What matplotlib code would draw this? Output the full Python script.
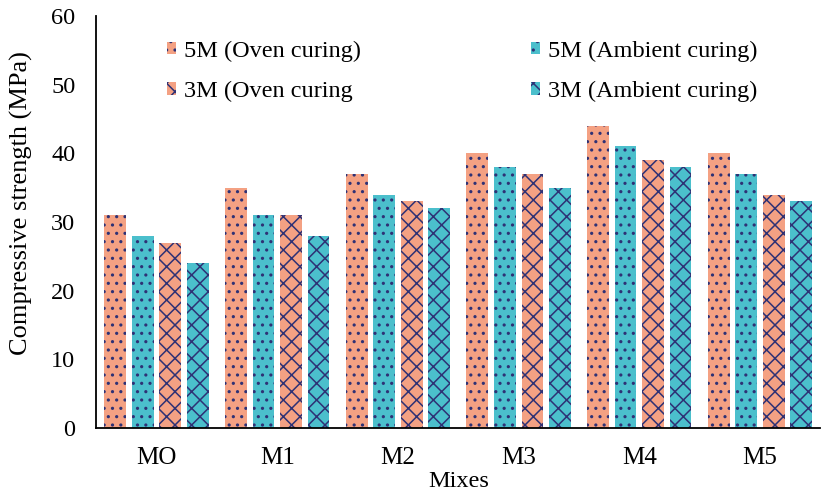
import matplotlib.pyplot as plt
import numpy as np

plt.rcParams['font.family'] = ['Liberation Serif', 'DejaVu Serif']
plt.rcParams['hatch.linewidth'] = 1.1

mixes = ['MO', 'M1', 'M2', 'M3', 'M4', 'M5']
oven_5m = [31, 35, 37, 40, 44, 40]
ambient_5m = [28, 31, 34, 38, 41, 37]
oven_3m = [27, 31, 33, 37, 39, 34]
ambient_3m = [24, 28, 32, 35, 38, 33]

orange = '#F4A183'
teal = '#4BBFCC'
navy = '#2E3175'

fig = plt.figure(figsize=(8.22, 5), dpi=100)
ax = fig.add_axes([0.117, 0.144, 0.881, 0.824])

x = np.arange(len(mixes))
w = 0.18
step = 0.228

series = [
    (oven_5m, orange, '..', '5M (Oven curing)', -1.5),
    (ambient_5m, teal, '..', '5M (Ambient curing)', -0.5),
    (oven_3m, orange, 'xx', '3M (Oven curing', 0.5),
    (ambient_3m, teal, 'xx', '3M (Ambient curing)', 1.5),
]
bars = {}
for vals, col, hat, lab, off in series:
    bars[lab] = ax.bar(x + off * step, vals, w, color=col, hatch=hat,
                       edgecolor=navy, linewidth=0, label=lab)

# legend filled column-wise: oven entries left, ambient entries right
order = ['5M (Oven curing)', '3M (Oven curing',
         '5M (Ambient curing)', '3M (Ambient curing)']
ax.legend([bars[k] for k in order], order, ncol=2, frameon=False,
          loc='upper left', bbox_to_anchor=(0.098, 0.94), fontsize=17.5,
          borderpad=0, borderaxespad=0,
          columnspacing=7.0, handlelength=0.35, handleheight=0.4,
          handletextpad=0.35, labelspacing=0.78)

ax.set_xlim(-0.5, 5.5)
ax.set_ylim(0, 60)
ax.set_yticks(range(0, 61, 10))
ax.set_xticks(x)
ax.set_xticklabels(mixes)
ax.tick_params(axis='both', length=0, labelsize=18)
ax.tick_params(axis='x', pad=14)
ax.tick_params(axis='y', pad=15, labelsize=17.5)
ax.spines['top'].set_visible(False)
ax.spines['right'].set_visible(False)
ax.spines['left'].set_linewidth(1.3)
ax.spines['bottom'].set_linewidth(1.3)
ax.set_xlabel('Mixes', fontsize=17.5, labelpad=1)
ax.set_ylabel('Compressive strength (MPa)', fontsize=19)
ax.yaxis.set_label_coords(-0.087, 0.546)

fig.savefig('out.png', dpi=100)
